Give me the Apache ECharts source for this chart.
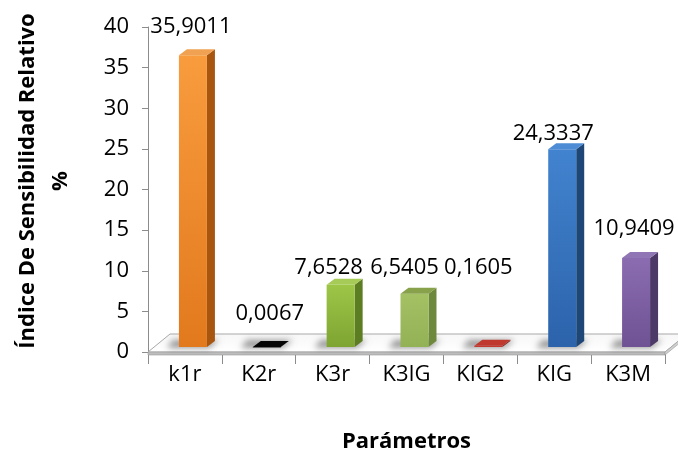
<!DOCTYPE html>
<html>
<head>
<meta charset="utf-8">
<script src="https://cdn.jsdelivr.net/npm/echarts@6/dist/echarts.min.js"></script>
<style>
  html, body { margin: 0; padding: 0; background: #ffffff; }
  #chart { width: 678px; height: 460px; }
</style>
</head>
<body>
<div id="chart"></div>
<script>
// ---- data ----
const categories = ['k1r', 'K2r', 'K3r', 'K3IG', 'KIG2', 'KIG', 'K3M'];
const sensitivity = [35.9011, 0.0067, 7.6528, 6.5405, 0.1605, 24.3337, 10.9409];
const valueMin = 0;
const valueMax = 40;
const valueStep = 5;
const xTitle = 'Parámetros';
const yTitle = 'Índice De Sensibilidad Relativo\n%';

// ---- look ----
const FONT = '"Open Sans", "Noto Sans", sans-serif';
// per bar: [front light, front dark, side, top]
const palettes = [
  ['#F89C3E', '#E2791D', '#A85510', '#F0A252'],
  ['#2a2a2a', '#000000', '#000000', '#050505'],
  ['#9DC647', '#7EA432', '#5D7D22', '#A7CB57'],
  ['#A4C264', '#93B155', '#6E893B', '#87A24A'],
  ['#D2463C', '#B8342C', '#8A2520', '#C0392F'],
  ['#4283CF', '#2C63AB', '#1E4778', '#4E8DD5'],
  ['#8B6CB1', '#6E5293', '#4C3968', '#9076B4']
];
// value label placement relative to the bar's front top edge [dx, dy]
const labelNudge = [[6, -29], [11, -33], [-4, -17], [-2, -26], [-2, -78], [-1, -16], [6, -29]];

const BAR_LEFT = -6;       // front face left edge, from category centre
const BAR_W = 28;          // front face width
const BAR_DEPTH = [8, -6]; // oblique depth of each bar
const BAR_LIFT = 5;        // bars stand slightly behind the floor's front edge
const FLOOR_DEPTH = [22, -18];
const FLOOR_THICK = 3;
const OFF = 2000;          // used to draw blurred floor shadows only

function fmt(v) {
  return v.toFixed(4).replace('.', ',');
}

function renderFloor(params, api) {
  const cs = params.coordSys;
  const x0 = cs.x, x1 = cs.x + cs.width, y = cs.y + cs.height;
  const fx = FLOOR_DEPTH[0], fy = FLOOR_DEPTH[1];
  return {
    type: 'group',
    children: [
      {
        type: 'polygon',
        shape: { points: [[x0, y], [x1, y], [x1 + fx, y + fy], [x0 + fx, y + fy]] },
        style: {
          fill: new echarts.graphic.LinearGradient(0, 0, 0, 1, [
            { offset: 0, color: '#f7f7f7' },
            { offset: 1, color: '#ffffff' }
          ]),
          stroke: '#a9a9a9',
          lineWidth: 1
        }
      },
      {
        type: 'rect',
        shape: { x: x0, y: y, width: x1 - x0, height: FLOOR_THICK },
        style: { fill: '#bdbdbd', stroke: '#9a9a9a', lineWidth: 0.6 }
      },
      {
        type: 'polygon',
        shape: { points: [[x1, y], [x1 + fx, y + fy], [x1 + fx, y + fy + FLOOR_THICK], [x1, y + FLOOR_THICK]] },
        style: { fill: '#cfcfcf', stroke: '#9a9a9a', lineWidth: 0.6 }
      }
    ]
  };
}

function renderBar(params, api) {
  const i = api.value(0);
  const v = api.value(1);
  const base = api.coord([i, 0]);
  const top = api.coord([i, v]);
  const cx = base[0];
  const L = cx + BAR_LEFT, R = L + BAR_W;
  const B = base[1] - BAR_LIFT;
  const T = top[1] - BAR_LIFT;
  const dx = BAR_DEPTH[0], dy = BAR_DEPTH[1];
  const p = palettes[i];
  const nudge = labelNudge[i];
  return {
    type: 'group',
    children: [
      // soft shadow cast on the floor
      {
        type: 'polygon',
        shape: { points: [[L - 12 - OFF, B + 1], [R + 2 - OFF, B + 1], [R + dx + 4 - OFF, B + dy - 1], [L - 6 - OFF, B + dy - 1]] },
        style: { fill: '#000', shadowBlur: 6, shadowColor: 'rgba(0,0,0,0.4)', shadowOffsetX: OFF }
      },
      // right side face
      {
        type: 'polygon',
        shape: { points: [[R, T], [R + dx, T + dy], [R + dx, B + dy], [R, B]] },
        style: { fill: p[2] }
      },
      // front face
      {
        type: 'rect',
        shape: { x: L, y: T, width: BAR_W, height: Math.max(B - T, 0.5) },
        style: {
          fill: new echarts.graphic.LinearGradient(0, 0, 0, 1, [
            { offset: 0, color: p[0] },
            { offset: 1, color: p[1] }
          ])
        }
      },
      // top face
      {
        type: 'polygon',
        shape: { points: [[L, T], [R, T], [R + dx, T + dy], [L + dx, T + dy]] },
        style: { fill: p[3] }
      },
      // value label
      {
        type: 'text',
        x: cx + nudge[0],
        y: T + nudge[1],
        style: {
          text: fmt(v),
          fontFamily: FONT,
          fontSize: 22,
          fill: '#000000',
          align: 'center',
          verticalAlign: 'middle'
        }
      }
    ]
  };
}

const chart = echarts.init(document.getElementById('chart'), null, { renderer: 'canvas' });

chart.setOption({
  animation: false,
  backgroundColor: '#ffffff',
  grid: { left: 148, right: 13, top: 27, bottom: 108 },
  xAxis: {
    type: 'category',
    data: categories,
    boundaryGap: true,
    axisLine: { show: false },
    axisTick: { show: true, length: 12, lineStyle: { color: '#8c8c8c' } },
    axisLabel: { color: '#000000', fontFamily: FONT, fontSize: 22, margin: 12 },
    name: xTitle,
    nameLocation: 'middle',
    nameGap: 79,
    nameTextStyle: { color: '#000000', fontFamily: FONT, fontSize: 22, fontWeight: 'bold' }
  },
  yAxis: {
    type: 'value',
    min: valueMin,
    max: valueMax,
    interval: valueStep,
    splitLine: { show: false },
    axisLine: { show: true, lineStyle: { color: '#8c8c8c' } },
    axisTick: { show: true, length: 6, lineStyle: { color: '#8c8c8c' } },
    axisLabel: { color: '#000000', fontFamily: FONT, fontSize: 22, margin: 19 }
  },
  graphic: [
    {
      type: 'text',
      x: 44,
      y: 181,
      rotation: Math.PI / 2,
      style: {
        text: yTitle,
        fontFamily: FONT,
        fontSize: 22,
        fontWeight: 'bold',
        lineHeight: 33,
        fill: '#000000',
        align: 'center',
        verticalAlign: 'middle'
      }
    }
  ],
  series: [
    {
      type: 'custom',
      name: 'floor',
      z: 1,
      silent: true,
      renderItem: renderFloor,
      data: [0]
    },
    {
      type: 'custom',
      name: 'sensibilidad',
      z: 3,
      renderItem: renderBar,
      encode: { x: 0, y: 1 },
      data: categories.map(function (c, i) { return [i, sensitivity[i]]; })
    }
  ]
});
</script>
</body>
</html>
